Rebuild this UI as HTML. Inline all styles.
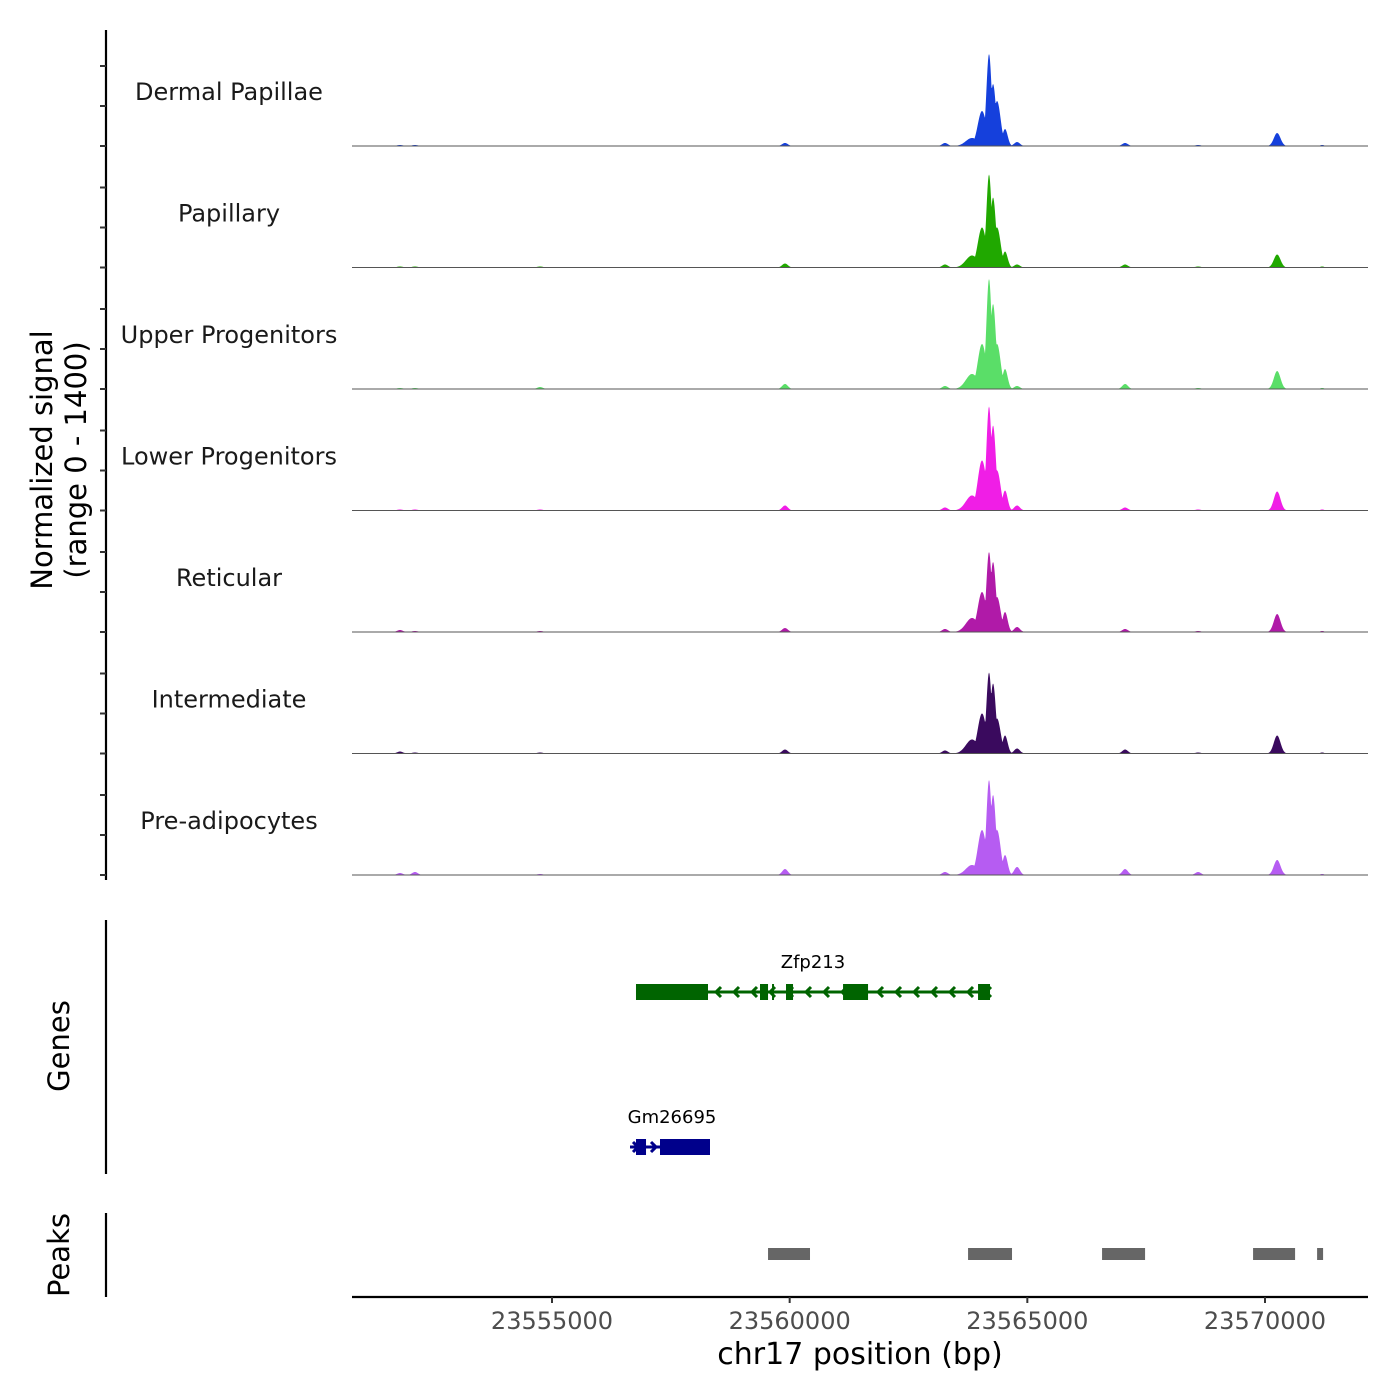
<!DOCTYPE html>
<html><head><meta charset="utf-8"><style>
body{margin:0;background:#fff}
svg{display:block;font-family:"DejaVu Sans","Liberation Sans",sans-serif}
</style></head><body>
<svg id="c" width="1400" height="1400" viewBox="0 0 1400 1400"></svg>
<script>
const trackNames=["Dermal Papillae","Papillary","Upper Progenitors","Lower Progenitors","Reticular","Intermediate","Pre-adipocytes"];
const trackColors=["#1540dc","#20a800","#5ade68","#f01ee6","#b01aa8","#3a0a5e","#b65cf2"];
const peakPos=[23551802,23552117,23554748,23559902,23563269,23563837,23564047,23564194,23564279,23564363,23564531,23564784,23567057,23568593,23570256,23571203];
const sigDP=[12,12,6,35,35,93,405,1064,717,520,197,46,35,12,150,12];
const sigPap=[12,12,12,46,35,139,463,1076,810,463,185,35,35,12,150,12];
const sigUP=[12,12,23,58,35,174,521,1273,983,521,231,35,58,12,208,12];
const sigLP=[12,12,12,58,35,174,579,1203,983,463,231,58,35,12,220,12];
const sigRet=[23,12,12,46,35,162,463,926,810,405,231,58,35,12,208,12];
const sigInt=[23,12,12,46,35,162,463,937,810,405,208,58,46,12,208,12];
const sigPre=[23,35,12,69,35,116,521,1099,926,521,231,93,69,35,174,12];
const xTicks=[23555000,23560000,23565000,23570000];
const zfpExons=[[23556767,23558282],[23559376,23559545],[23559629,23559671],[23559923,23560071],[23561123,23561649],[23563963,23564215]];
const zfpSpan=[23556767,23564215];
const gmExons=[[23556767,23556978],[23557272,23558324]];
const gmSpan=[23556641,23558324];
const peakRegions=[[23559545,23560428],[23563753,23564678],[23566572,23567477],[23569749,23570633],[23571096,23571222]];

const signals=[sigDP,sigPap,sigUP,sigLP,sigRet,sigInt,sigPre];
const widths=[60,60,60,60,60,130,90,55,60,75,55,60,60,60,70,40];
const NS="http://www.w3.org/2000/svg";
const svg=document.getElementById('c');
const X0=352,X1=1368;
const px=23555000,pk=0.047533;
const xs=b=>552+(b-px)*pk;
const TH=121, base0=146;
const ys=(v,t)=>base0+t*121.5-v/1400*TH;
function el(tag,attrs,parent){const e=document.createElementNS(NS,tag);for(const k in attrs)e.setAttribute(k,attrs[k]);(parent||svg).appendChild(e);return e;}
let a=el('line',{x1:106,y1:30,x2:106,y2:880,stroke:'#000','stroke-width':2.2});


for(let t=0;t<7;t++){for(let k=0;k<3;k++){const y=base0+t*121.5-k*40;const tk=el('line',{x1:100,y1:y,x2:106,y2:y,stroke:'#333','stroke-width':2});

}}
let yt=el('text',{transform:'translate(52,460) rotate(-90)','text-anchor':'middle','font-size':29,fill:'#000'});yt.textContent='Normalized signal';


let yt2=el('text',{transform:'translate(86,460) rotate(-90)','text-anchor':'middle','font-size':29,fill:'#000'});yt2.textContent='(range 0 - 1400)';


signals.forEach((s,t)=>{
  const base=base0+t*121.5;
  let d=`M${X0},${base}`;
  for(let x=X0;x<=X1;x+=0.5){const b=px+(x-552)/pk;let v=0;
    for(let i=0;i<peakPos.length;i++){const z=(b-peakPos[i])/widths[i];v=Math.max(v,s[i]*Math.exp(-0.5*z*z));}
    d+=`L${x},${ys(Math.min(v,1400),t)}`;}
  d+=`L${X1},${base}Z`;
  const p=el('path',{d,fill:trackColors[t]});
  
  
  const l=el('line',{x1:X0,y1:base,x2:X1,y2:base,stroke:'#555','stroke-width':1});
  
  
  const tx=el('text',{x:229,y:base-46,'text-anchor':'middle','font-size':24,fill:'#1a1a1a'});tx.textContent=trackNames[t];
  
  
});
let ga=el('line',{x1:106,y1:920,x2:106,y2:1174,stroke:'#000','stroke-width':2.2});


let gt=el('text',{transform:'translate(69,1046) rotate(-90)','text-anchor':'middle','font-size':29});gt.textContent='Genes';


function gene(span,exons,y,color,name,dir,lx){
  const g=el('g',{});
  
  
  el('line',{x1:xs(span[0]),y1:y,x2:xs(span[1]),y2:y,stroke:color,'stroke-width':3},g);
  exons.forEach(e=>el('rect',{x:xs(e[0]),y:y-8,width:xs(e[1])-xs(e[0]),height:16,fill:color},g));
  for(let x=xs(span[0])+8;x<xs(span[1])-4;x+=18){
    el('polyline',{points:dir<0?`${x+5},${y-5} ${x},${y} ${x+5},${y+5}`:`${x-5},${y-5} ${x},${y} ${x-5},${y+5}`,fill:'none',stroke:color,'stroke-width':3},g);}
  const t=el('text',{x:lx,y:y-24,'text-anchor':'middle','font-size':18},g);t.textContent=name;
}
gene(zfpSpan,zfpExons,992,'#006400','Zfp213',-1,813);
gene(gmSpan,gmExons,1147,'#00008b','Gm26695',1,672);
let pa=el('line',{x1:106,y1:1213,x2:106,y2:1297,stroke:'#000','stroke-width':2.2});


let pt=el('text',{transform:'translate(69,1255) rotate(-90)','text-anchor':'middle','font-size':29});pt.textContent='Peaks';


peakRegions.forEach(r=>{const rc=el('rect',{x:xs(r[0]),y:1248,width:xs(r[1])-xs(r[0]),height:12,fill:'#666'});

});
let xa=el('line',{x1:X0,y1:1297,x2:X1,y2:1297,stroke:'#000','stroke-width':2.2});


xTicks.forEach(v=>{const x=xs(v);el('line',{x1:x,y1:1297,x2:x,y2:1303,stroke:'#333','stroke-width':2});
const t=el('text',{x:x,y:1329,'text-anchor':'middle','font-size':24,fill:'#4d4d4d'});t.textContent=v;

});
let xt=el('text',{x:860,y:1364,'text-anchor':'middle','font-size':30});xt.textContent='chr17 position (bp)';


</script>
</body></html>
